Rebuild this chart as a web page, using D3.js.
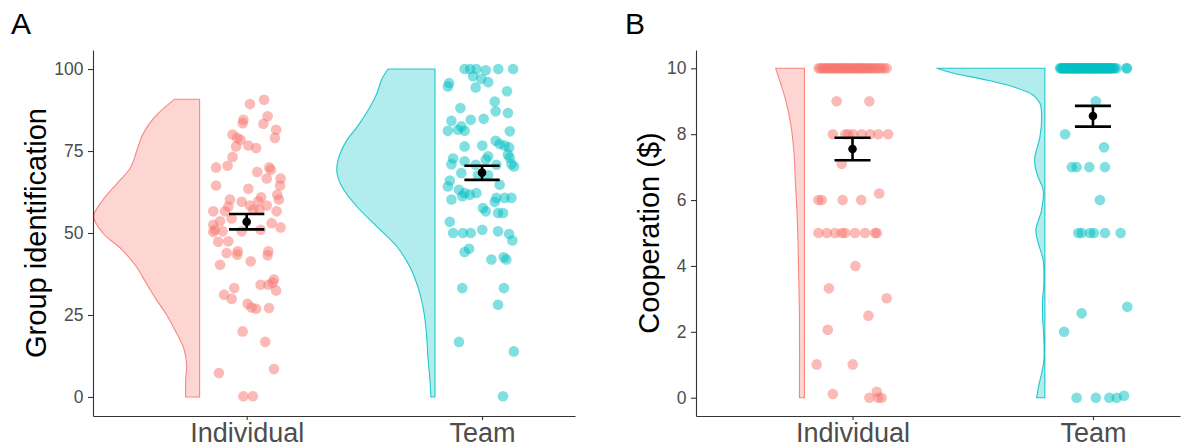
<!DOCTYPE html>
<html>
<head>
<meta charset="utf-8">
<script src="https://cdn.jsdelivr.net/npm/d3@7"></script>
<style>
  body { margin: 0; background: #fff; }
  text { font-family: "Liberation Sans", Arial, sans-serif; }
</style>
</head>
<body>
<svg id="chart" width="1182" height="448"></svg>
<script>
var groups = ['Individual', 'Team'];
var groupColors = ['#F8766D', '#00BFC4'];

// ---- panel A: group identification ----
var identTicks = [0, 25, 50, 75, 100];
// [jitter (category units), value]
var identIndividual = [[0.014,89.3],[0.074,90.6],[0.089,85.6],[-0.014,84.5],[-0.017,83.5],[0.071,83.3],[0.125,81.5],[0.120,79],[-0.060,80],[-0.040,79],[-0.026,78.4],[-0.045,76.4],[0.007,76.7],[0.040,75.9],[-0.060,73.2],[-0.081,70.5],[-0.130,70],[0.096,70],[0.103,69.3],[0.045,68.6],[0.085,66.6],[0.144,66.6],[0.142,64.5],[-0.130,64.5],[0.007,63.5],[0.130,61.7],[0.061,60.9],[0.137,60.2],[-0.071,60.2],[-0.021,59.5],[0.014,58.4],[0.049,59.7],[0.085,58.4],[-0.078,58.1],[0.028,57.1],[0.054,57.1],[-0.092,56.6],[-0.142,56.6],[0.127,56.6],[-0.064,54.4],[-0.113,53.6],[0.106,53],[-0.142,52.5],[0.144,51.7],[-0.135,51],[-0.102,50.5],[-0.021,50.5],[0.059,51],[-0.142,50.3],[-0.121,47.3],[-0.078,47.5],[-0.085,43.9],[-0.038,44.4],[-0.040,43.4],[0.092,44.4],[0.089,43.2],[-0.113,40.3],[0.017,41.4],[0.116,35.8],[0.110,34.8],[0.059,34.2],[0.092,34.2],[0.125,32.5],[-0.053,33.2],[-0.096,31.2],[-0.064,29.9],[0.004,28.4],[0.021,27.3],[0.040,26.9],[0.095,27.1],[-0.017,20],[0.079,16.8],[-0.118,7.3],[0.116,8.5],[-0.014,0.2],[0.026,0.2]];
var identTeam = [[-0.074,100],[-0.050,100],[-0.024,100],[0.016,99.6],[0.069,100],[0.132,100],[-0.038,97.8],[-0.003,97],[0.026,96],[-0.140,95.7],[-0.145,94.7],[-0.027,94.4],[0.106,93.2],[0.054,90.1],[-0.092,88.1],[0.058,87.1],[0.110,86.6],[0.007,84.8],[-0.048,84.5],[-0.130,84.2],[-0.088,82.5],[-0.102,81.5],[-0.145,81.2],[-0.074,81.2],[0.118,81],[0.058,78.1],[-0.074,76.4],[0.001,76.7],[0.075,77.1],[0.096,76.7],[0.115,76.1],[0.110,73.9],[0.026,73.4],[-0.123,72.7],[-0.074,71.9],[0.016,72.4],[0.118,72.9],[0.125,71],[0.136,70.3],[0.061,70.8],[-0.130,71],[-0.027,70.8],[-0.088,68.3],[0.026,67.6],[-0.017,67.6],[-0.137,66],[-0.145,64.2],[0.075,64.7],[-0.098,63.2],[-0.074,62.2],[-0.052,61.7],[-0.024,62.2],[-0.084,61.2],[0.061,60.7],[0.096,60.7],[0.125,60.7],[-0.130,60.2],[0.054,59.5],[0.004,57.6],[0.016,56.6],[0.068,56.1],[0.089,56.1],[-0.137,53.4],[-0.123,50],[-0.081,50],[-0.048,50],[0.001,51],[0.068,50.5],[0.115,49.7],[0.129,47.7],[-0.055,45.2],[-0.074,44.2],[0.040,41.9],[0.092,42.6],[0.103,41.9],[-0.084,33.2],[0.093,33.2],[0.068,28.1],[-0.098,16.8],[0.135,13.9],[0.089,0.2]];
// half-violin outlines: [value, relative density]
var identDensIndividual = [[0,0.132],[5,0.132],[10,0.123],[15,0.151],[20,0.226],[25,0.311],[30,0.415],[35,0.509],[40,0.604],[45,0.736],[50,0.915],[55,1.0],[60,0.915],[65,0.783],[70,0.651],[75,0.594],[80,0.538],[85,0.434],[90.8,0.236]];
var identDensTeam = [[0,0.038],[5,0.047],[12,0.066],[21,0.085],[27.4,0.113],[33.5,0.160],[39.6,0.236],[45.8,0.358],[51.9,0.547],[58,0.736],[64,0.877],[68.3,0.925],[72.3,0.915],[78.4,0.830],[82.3,0.736],[88.4,0.613],[92.7,0.547],[97,0.500],[100,0.443]];
var identMean = [53.4, 68.4];
var identLow = [51.1, 66.2];
var identHigh = [55.8, 70.5];

// ---- panel B: cooperation ----
var coopTicks = [0, 2, 4, 6, 8, 10];
var coopIndividualTop = [-0.141,-0.134,-0.126,-0.119,-0.113,-0.104,-0.098,-0.092,-0.086,-0.078,-0.071,-0.067,-0.058,-0.052,-0.046,-0.040,-0.033,-0.026,-0.019,-0.013,-0.004,0.002,0.008,0.016,0.023,0.029,0.035,0.042,0.048,0.056,0.063,0.070,0.078,0.086,0.093,0.102,0.111,0.120,0.131,0.142];
var coopIndividual = [[-0.066,9],[0.070,9],[-0.082,8],[-0.030,8],[-0.018,8],[0.003,8],[0.038,8],[0.073,8],[0.107,8],[0.148,8],[-0.045,7.1],[-0.142,6],[-0.128,6],[-0.041,6],[0.036,6],[0.111,6.2],[-0.142,5],[-0.107,5],[-0.073,5],[-0.045,5],[-0.031,5],[0.010,5],[0.052,5],[0.094,5],[0.101,5],[0.012,4],[-0.098,3.32],[0.142,3.02],[0.066,2.49],[-0.103,2.06],[-0.149,1.01],[0.001,1.01],[-0.082,0.11],[0.070,0],[0.101,0.18],[0.107,0],[0.121,0]];
var coopTeamTop = [-0.137,-0.133,-0.129,-0.126,-0.121,-0.117,-0.114,-0.110,-0.106,-0.102,-0.098,-0.095,-0.091,-0.087,-0.083,-0.080,-0.076,-0.072,-0.069,-0.065,-0.061,-0.058,-0.054,-0.050,-0.047,-0.043,-0.039,-0.035,-0.032,-0.028,-0.024,-0.021,-0.017,-0.013,-0.010,-0.006,-0.002,0.001,0.005,0.009,0.012,0.016,0.020,0.024,0.027,0.031,0.035,0.038,0.042,0.046,0.050,0.053,0.057,0.061,0.065,0.068,0.072,0.076,0.080,0.085,0.091,0.098,0.139,0.142];
var coopTeam = [[0.012,9],[-0.116,8],[0.046,7.6],[-0.088,7],[-0.068,7],[-0.015,7],[0.050,7],[0.029,6],[-0.061,5],[-0.047,5],[-0.012,5],[0.004,5],[0.050,5],[0.115,5],[0.143,2.76],[-0.047,2.56],[-0.120,2],[-0.068,0],[0.012,0],[0.068,0],[0.099,0],[0.129,0.06]];
var coopDensIndividual = [[0,0.046],[2.5,0.046],[3.5,0.052],[4.5,0.058],[5.5,0.067],[6.5,0.083],[7.5,0.098],[8.33,0.128],[9.04,0.174],[9.54,0.220],[10,0.266]];
var coopDensTeam = [[0,0.076],[0.44,0.052],[0.74,0.030],[1.14,0.009],[1.75,0.009],[2.46,0.021],[2.97,0.021],[3.47,0.009],[4.18,0.016],[4.69,0.061],[5.09,0.083],[5.7,0.030],[6.31,0.016],[6.71,0.064],[7.06,0.092],[7.32,0.092],[7.92,0.046],[8.53,0.030],[8.94,0.046],[9.19,0.110],[9.44,0.294],[9.64,0.532],[9.85,0.844],[10,1.0]];
var coopMean = [7.55, 8.55];
var coopLow = [7.21, 8.23];
var coopHigh = [7.89, 8.86];

var svg = d3.select('#chart');

var draw_panel = function(p) {
  var g = svg.append('g');
  var x = d3.scaleLinear().domain(p.xDomain).range([p.left, p.right]);
  var y = d3.scaleLinear().domain(p.yDomain).range([416, 50]);
  // relative density -> category units
  var w = d3.scaleLinear().domain([0, 1]).range([0, 0.45]);
  var nudge = 0.2;

  // half violins
  p.dens.forEach(function(dens, i) {
    var area = d3.area()
      .curve(d3.curveCatmullRom)
      .y(function(d) { return y(d[0]); })
      .x0(function(d) { return x(i - nudge); })
      .x1(function(d) { return x(i - nudge - w(d[1])); });
    g.append('path')
      .attr('d', area(dens))
      .attr('fill', groupColors[i])
      .attr('fill-opacity', 0.3)
      .attr('stroke', groupColors[i])
      .attr('stroke-opacity', 0.85)
      .attr('stroke-width', 1.1);
  });

  // jittered raw points
  p.points.forEach(function(pts, i) {
    g.selectAll(null)
      .data(pts)
      .enter()
      .append('circle')
      .attr('cx', function(d) { return x(i + d[0]); })
      .attr('cy', function(d) { return y(d[1]); })
      .attr('r', 5.3)
      .attr('fill', groupColors[i])
      .attr('fill-opacity', 0.5);
  });

  // mean +- SE
  var cap = 0.075;
  groups.forEach(function(name, i) {
    var eb = g.append('g').attr('stroke', '#000').attr('stroke-width', 2.6);
    eb.append('line')
      .attr('x1', x(i)).attr('x2', x(i))
      .attr('y1', y(p.low[i])).attr('y2', y(p.high[i]));
    [p.low[i], p.high[i]].forEach(function(v) {
      eb.append('line')
        .attr('x1', x(i - cap)).attr('x2', x(i + cap))
        .attr('y1', y(v)).attr('y2', y(v));
    });
    g.append('circle')
      .attr('cx', x(i)).attr('cy', y(p.mean[i]))
      .attr('r', 4.3).attr('fill', '#000');
  });

  // axes
  var ya = g.append('g')
    .attr('transform', 'translate(' + p.left + ',0)')
    .call(d3.axisLeft(y).tickValues(p.ticks).tickSize(5).tickSizeOuter(0).tickPadding(4.5));
  var xa = g.append('g')
    .attr('transform', 'translate(0,416)')
    .call(d3.axisBottom(x).tickValues([0, 1]).tickSize(4).tickSizeOuter(0).tickPadding(3)
      .tickFormat(function(i) { return groups[i]; }));
  [ya, xa].forEach(function(a) {
    a.select('.domain').attr('stroke', '#333').attr('stroke-width', 1.1);
    a.selectAll('.tick line').attr('stroke', '#333').attr('stroke-width', 1.1);
    a.selectAll('.tick text').attr('fill', '#4d4d4d').attr('font-family', '"Liberation Sans", Arial, sans-serif');
  });
  ya.selectAll('.tick text').attr('font-size', 17.5);
  xa.selectAll('.tick text').attr('font-size', 27);

  g.append('text')
    .attr('transform', 'translate(' + p.titleX + ',233) rotate(-90)')
    .attr('text-anchor', 'middle')
    .attr('font-size', 29)
    .attr('fill', '#000')
    .text(p.title);

  g.append('text')
    .attr('x', p.letterX).attr('y', 34)
    .attr('font-size', 30)
    .attr('fill', '#000')
    .text(p.letter);
};

draw_panel({
  letter: 'A', letterX: 11,
  title: 'Group identification', titleX: 46,
  left: 93, right: 575,
  xDomain: [-0.653, 1.395], yDomain: [-5.8, 105.8],
  ticks: identTicks,
  dens: [identDensIndividual, identDensTeam],
  points: [identIndividual, identTeam],
  mean: identMean, low: identLow, high: identHigh
});

draw_panel({
  letter: 'B', letterX: 625,
  title: 'Cooperation ($)', titleX: 659,
  left: 696, right: 1180,
  xDomain: [-0.651, 1.362], yDomain: [-0.556, 10.556],
  ticks: coopTicks,
  dens: [coopDensIndividual, coopDensTeam],
  points: [
    coopIndividualTop.map(function(j) { return [j, 10]; }).concat(coopIndividual),
    coopTeamTop.map(function(j) { return [j, 10]; }).concat(coopTeam)
  ],
  mean: coopMean, low: coopLow, high: coopHigh
});
</script>
</body>
</html>
